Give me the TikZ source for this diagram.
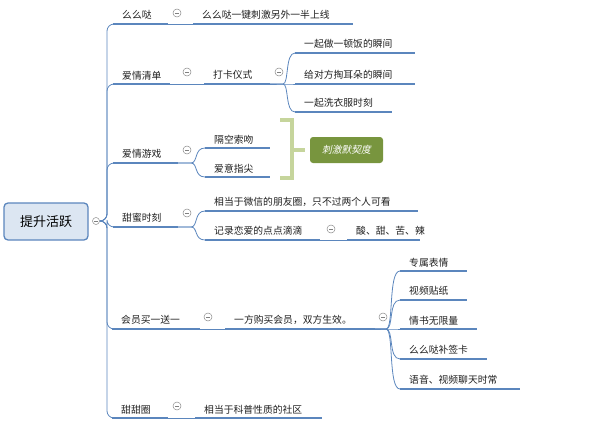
\documentclass[tikz,border=0pt]{standalone}
\usepackage{fontspec}
\setmainfont{Noto Sans CJK SC}
\newfontfamily\slfont[FakeSlant=0.2]{Noto Sans CJK SC}
\begin{document}
\begin{tikzpicture}[x=1pt,y=-1pt,
  ul/.style={draw=lineblue,line width=2.6pt},
  conn/.style={draw=lineblue,line width=0.8pt},
  txt/.style={anchor=south west,inner sep=0pt,font=\fontsize{9.8}{11}\selectfont,text=black!88},
  mc/.style={circle,draw=black!45,line width=0.5pt,minimum size=8pt,inner sep=0pt,fill=white,
    path picture={\draw[black!50,line width=0.5pt] ([xshift=-2pt]path picture bounding box.center)--([xshift=2pt]path picture bounding box.center);}}]
\definecolor{lineblue}{HTML}{5B86BD}
\definecolor{rootfill}{HTML}{DCE6F2}
\definecolor{brk}{HTML}{C6D59C}
\definecolor{tagg}{HTML}{78953E}
\useasboundingbox (0,0) rectangle (600,431);
\newcommand{\tp}[5]{%
  \coordinate (#1-w) at (#2,#4); \coordinate (#1-e) at (#3,#4);
  \draw[ul] (#1-w) -- (#1-e);
  \node[txt] (#1) at (#2+9,#4-4) {#5};}
% root
\node[draw=lineblue,line width=1.3pt,fill=rootfill,rounded corners=4pt,minimum width=84pt,minimum height=37pt,font=\fontsize{13}{15}\selectfont] (root) at (46,221.5) {提升活跃};
\node[mc,minimum size=7pt] (rc) at (96,221) {};
% level 1
\tp{a}{113}{168}{24}{么么哒}
\tp{b}{113}{170}{84}{爱情清单}
\tp{c}{113}{178}{163}{爱情游戏}
\tp{d}{113}{178}{227}{甜蜜时刻}
\tp{e}{112}{200}{329}{会员买一送一}
\tp{f}{112}{168}{418}{甜甜圈}
\foreach \n in {a,b,c,d,e,f}{\draw[conn,rounded corners=7pt] (rc.east) -| (107,0 |- \n-w) -- (\n-w);}
% minus circles
\node[mc] (ma) at (177,13) {};
\node[mc] (mb) at (187,72) {};
\node[mc] (mc1) at (187,150) {};
\node[mc] (md) at (187,213) {};
\node[mc] (me) at (208,317) {};
\node[mc] (mf) at (177,406) {};
% level 2
\tp{a1}{193}{353}{24}{么么哒一键刺激另外一半上线}
\draw[conn] (a-e) -- (a1-w);
\tp{b1}{204}{270}{84}{打卡仪式}
\draw[conn] (b-e) -- (b1-w);
\node[mc] (mb1) at (279,72) {};
\tp{b11}{295}{415}{53}{一起做一顿饭的瞬间}
\tp{b12}{295}{415}{84}{给对方掏耳朵的瞬间}
\tp{b13}{295}{392}{112}{一起洗衣服时刻}
\foreach \n in {b11,b12,b13}{\draw[conn] (b1-e) -- (283,84) .. controls (289,84) and (285,0 |- \n-w) .. (\n-w);}
\tp{c1}{205}{270}{148}{隔空索吻}
\tp{c2}{205}{270}{177}{爱意指尖}
\foreach \n in {c1,c2}{\draw[conn] (c-e) -- (191,163) .. controls (198,163) and (194,0 |- \n-w) .. (\n-w);}
\draw[brk,line width=4pt] (280,120) -- (292,120) -- (292,178) -- (280,178);
\draw[brk,line width=4pt] (292,150) -- (305,150);
\node[fill=tagg,rounded corners=3pt,minimum width=73pt,minimum height=26pt,inner sep=0pt,text=white,font=\fontsize{9.8}{11}\slfont] (tag) at (346.5,150) {刺激默契度};
\tp{d1}{205}{418}{211}{相当于微信的朋友圈，只不过两个人可看}
\tp{d2}{205}{320}{240}{记录恋爱的点点滴滴}
\foreach \n in {d1,d2}{\draw[conn] (d-e) -- (191,227) .. controls (198,227) and (194,0 |- \n-w) .. (\n-w);}
\node[mc] (md2) at (331,229) {};
\tp{d21}{347}{420}{240}{酸、甜、苦、辣}
\draw[conn] (d2-e) -- (d21-w);
\tp{e1}{225}{375}{329}{一方购买会员，双方生效。}
\draw[conn] (e-e) -- (e1-w);
\node[mc] (me1) at (383,317) {};
\tp{e11}{400}{467}{271}{专属表情}
\tp{e12}{400}{467}{300}{视频贴纸}
\tp{e13}{400}{477}{329}{情书无限量}
\tp{e14}{400}{487}{359}{么么哒补签卡}
\tp{e15}{400}{520}{389}{语音、视频聊天时常}
\foreach \n in {e11,e12,e13,e14,e15}{\draw[conn] (e1-e) -- (386,329) .. controls (394,329) and (388,0 |- \n-w) .. (\n-w);}
\tp{f1}{195}{322}{418}{相当于科普性质的社区}
\draw[conn] (f-e) -- (f1-w);
\end{tikzpicture}
\end{document}
